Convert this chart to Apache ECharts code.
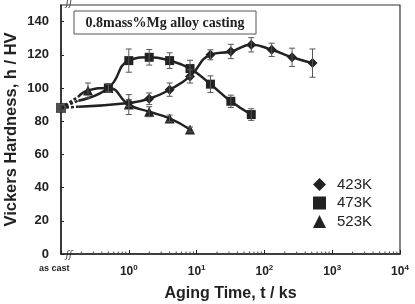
<!DOCTYPE html>
<html>
<head>
<meta charset="utf-8">
<script src="https://cdn.jsdelivr.net/npm/echarts@6/dist/echarts.min.js"></script>
<style>
	html, body { margin: 0; padding: 0; background: #fff; }
	#chart { width: 415px; height: 304px; }
</style>
</head>
<body>
<div id="chart"></div>
<script>
// as cast value (drawn on the left edge, t = 0.1 position)
const asCastTime = 0.1;
const asCastHv = 88;
const asCastErr = 2;

const times423 = [1, 2, 4, 8, 16, 32, 64, 128, 256, 512];
const hv423 = [91, 93.5, 99, 107, 120, 122, 126, 123, 118.5, 115];
const err423 = [2, 3.5, 4, 4, 3, 4.3, 4.3, 4, 5.5, 8.5];

const times473 = [0.5, 1, 2, 4, 8, 16, 32, 64];
const hv473 = [100, 116.5, 118.5, 116.5, 111.7, 102.3, 92, 84];
const err473 = [2.5, 7, 4.7, 4.7, 5, 5, 3.7, 3.5];

const times523 = [0.25, 0.5, 1, 2, 4, 8];
const hv523 = [98.5, 100, 90, 85.7, 81.7, 75];
const err523 = [4.5, 2.5, 6, 3, 2, 1.5];

const seriesNames = ['423K', '473K', '523K'];
const seriesSymbols = ['diamond', 'rect', 'triangle'];
const symbolSizes = [10, 9, 10];

// 轴断开处（虚线结束的位置）
const breakTime = 0.18;

const ink = '#222';

// 对数坐标下从 as cast 点到第一个点做直线插值，得到虚线终点
const breakPoint = (t1, v1) => {
	const f = (Math.log10(breakTime) - Math.log10(asCastTime)) / (Math.log10(t1) - Math.log10(asCastTime));
	return [breakTime, asCastHv + (v1 - asCastHv) * f];
};

// 对数轴的次刻度 2..9
const minorTicks = [];
for (let d = -1; d < 4; d += 1) {
	for (let k = 2; k < 10; k += 1) {
		minorTicks.push(k * Math.pow(10, d));
	}
}

const groups = [
	[times423, hv423, err423],
	[times473, hv473, err473],
	[times523, hv523, err523],
];

const series = [];
const errData = [[asCastTime, asCastHv - asCastErr, asCastHv + asCastErr]];

groups.forEach(([ts, vs, es], i) => {
	const bp = breakPoint(ts[0], vs[0]);
	// 虚线段
	series.push({
		type: 'line',
		data: [[asCastTime, asCastHv], bp],
		symbol: 'none',
		lineStyle: { color: ink, width: 2.5, type: [3, 2] },
		silent: true,
		z: 3,
	});
	const pts = ts.map((t, j) => [t, vs[j]]);
	series.push({
		name: seriesNames[i],
		type: 'line',
		smooth: 0.5,
		data: [{ value: bp, symbol: 'none' }].concat(pts),
		symbol: seriesSymbols[i],
		symbolSize: symbolSizes[i],
		showAllSymbol: true,
		itemStyle: { color: ink },
		lineStyle: { color: ink, width: 2.5 },
		z: 4,
	});
	ts.forEach((t, j) => errData.push([t, vs[j] - es[j], vs[j] + es[j]]));
});

// as cast 点
series.push({
	type: 'scatter',
	data: [[asCastTime, asCastHv]],
	symbol: 'rect',
	symbolSize: 10,
	itemStyle: { color: ink },
	z: 5,
});

// 误差棒
series.push({
	type: 'custom',
	data: errData,
	encode: { x: 0, y: [1, 2] },
	z: 6,
	renderItem(params, api) {
		const lo = api.coord([api.value(0), api.value(1)]);
		const hi = api.coord([api.value(0), api.value(2)]);
		const w = 3;
		const style = { stroke: '#555', lineWidth: 1 };
		return {
			type: 'group',
			children: [
				{ type: 'line', shape: { x1: lo[0], y1: lo[1], x2: hi[0], y2: hi[1] }, style },
				{ type: 'line', shape: { x1: lo[0] - w, y1: lo[1], x2: lo[0] + w, y2: lo[1] }, style },
				{ type: 'line', shape: { x1: hi[0] - w, y1: hi[1], x2: hi[0] + w, y2: hi[1] }, style },
			],
		};
	},
});

// 次刻度
series.push({
	type: 'custom',
	data: minorTicks.map(v => [v, 0]),
	silent: true,
	clip: false,
	z: 7,
	renderItem(params, api) {
		const p = api.coord([api.value(0), 0]);
		return {
			type: 'line',
			shape: { x1: p[0], y1: p[1], x2: p[0], y2: p[1] - 2.5 },
			style: { stroke: '#444', lineWidth: 1 },
		};
	},
});

const option = {
	animation: false,
	textStyle: { fontFamily: 'Liberation Sans, Arial, sans-serif' },
	grid: {
		left: 61, right: 15, top: 5, bottom: 50,
		outerBoundsMode: 'none',
		containLabel: false,
		show: true, borderColor: '#333', borderWidth: 1.2,
	},
	legend: {
		orient: 'vertical',
		left: 313,
		top: 177,
		padding: 0,
		itemWidth: 13,
		itemHeight: 13,
		itemGap: 3.5,
		selectedMode: false,
		data: seriesNames.map((n, i) => ({ name: n, icon: seriesSymbols[i] })),
		itemStyle: { color: ink },
		textStyle: { fontSize: 15, color: ink, padding: [0, 0, 0, 6] },
	},
	xAxis: {
		type: 'log',
		logBase: 10,
		min: 0.1,
		max: 10000,
		interval: 1,
		name: 'Aging Time, t / ks',
		nameLocation: 'middle',
		nameGap: 32,
		nameMoveOverlap: false,
		nameTextStyle: { fontSize: 16, fontWeight: 'bold', color: ink },
		axisLine: { lineStyle: { color: ink, width: 1.5 } },
		axisTick: { inside: true, length: 4, lineStyle: { color: ink } },
		splitLine: { show: false },
		axisLabel: {
			margin: 10,
			color: ink,
			formatter(v) {
				if (v < 1) return '{c|as cast}';
				return `{b|10}{s|${Math.round(Math.log10(v))}}`;
			},
			rich: {
				b: { fontSize: 12, fontWeight: 'bold', color: ink, verticalAlign: 'bottom', lineHeight: 14 },
				s: { fontSize: 8, fontWeight: 'bold', color: ink, verticalAlign: 'top', lineHeight: 14 },
				c: { fontSize: 9, fontWeight: 'bold', color: ink, width: 44, align: 'left' },
			},
		},
	},
	yAxis: {
		type: 'value',
		min: 0,
		max: 150,
		interval: 20,
		name: 'Vickers Hardness, h / HV',
		nameLocation: 'middle',
		nameGap: 41,
		nameMoveOverlap: false,
		nameTextStyle: { fontSize: 16.5, fontWeight: 'bold', color: ink },
		axisLine: { show: true, lineStyle: { color: ink, width: 1.5 } },
		axisTick: { show: true, inside: true, length: 3, lineStyle: { color: ink } },
		splitLine: { show: false },
		axisLabel: { margin: 12, fontSize: 13, fontWeight: 'bold', color: ink, showMaxLabel: false },
	},
	graphic: [
		{
			type: 'rect',
			shape: { x: 74, y: 11, width: 182, height: 23 },
			style: { fill: '#fff', stroke: '#555', lineWidth: 1 },
			z: 10,
		},
		{
			type: 'text',
			x: 165, y: 23,
			style: {
				text: '0.8mass%Mg alloy casting',
				font: 'bold 14px "Liberation Serif", "Times New Roman", serif',
				fill: ink, align: 'center', verticalAlign: 'middle',
			},
			z: 11,
		},
		{
			type: 'text', x: 69, y: 255,
			style: { text: 'ʃʃ', font: 'italic 10px "DejaVu Sans"', fill: '#444', align: 'center', verticalAlign: 'middle' },
		},
		{
			type: 'text', x: 69, y: 3,
			style: { text: 'ʃʃ', font: 'italic 10px "DejaVu Sans"', fill: '#444', align: 'center', verticalAlign: 'middle' },
		},
	],
	series,
};

echarts.init(document.getElementById('chart')).setOption(option);
</script>
</body>
</html>
